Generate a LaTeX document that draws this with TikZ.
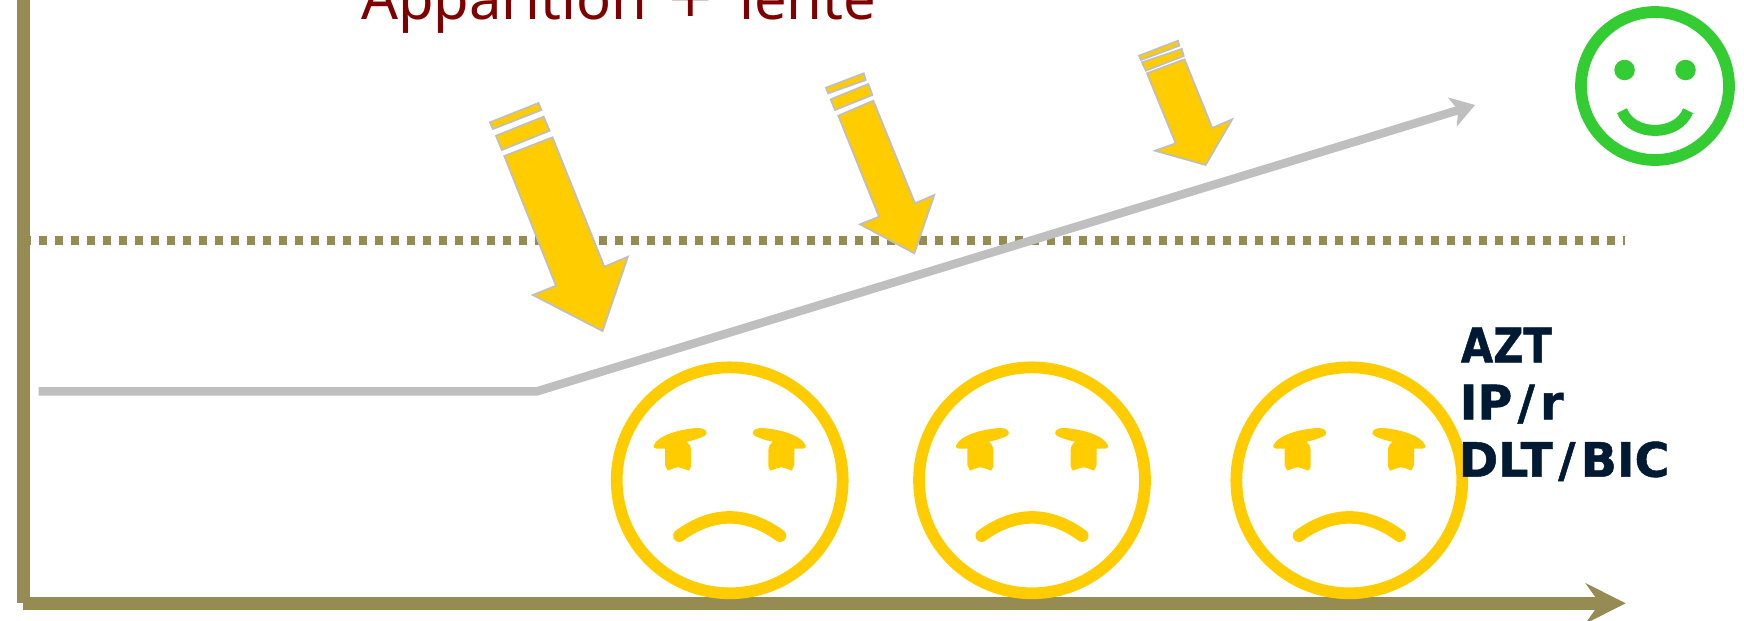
\documentclass[tikz,border=0pt]{standalone}
\usepackage{fontspec}
\newfontfamily\titlefont{Noto Sans}
\newfontfamily\drugfont[BoldFeatures={FakeBold=1}]{DejaVu Sans}
\usetikzlibrary{arrows.meta}

\definecolor{axisolive}{HTML}{968B53}
\definecolor{curvegrey}{HTML}{BFBFBF}
\definecolor{sadyellow}{HTML}{FFCC00}
\definecolor{happygreen}{HTML}{33CC33}
\definecolor{titlered}{HTML}{800000}
\definecolor{drugnavy}{HTML}{001A33}

\tikzset{
    axisline/.style={draw=axisolive, line width=0.266cm},
    limitline/.style={draw=axisolive, line width=0.17cm, dash pattern=on 0.16cm off 0.16cm},
    curveline/.style={draw=curvegrey, line width=0.17cm, line join=bevel},
    bolt/.style={fill=sadyellow, draw=curvegrey, line width=0.035cm},
    facering/.style={line width=0.235cm},
    druglabel/.style={anchor=base west, inner sep=0pt, text=drugnavy, font=\drugfont\bfseries\fontsize{27pt}{32pt}\selectfont}
}

\begin{document}
\begin{tikzpicture}[x=0.02cm, y=-0.02cm]
    \useasboundingbox (0,0) rectangle (1744,620);
    \clip (0,0) rectangle (1744,620);

    % Named points
    \coordinate (axistop) at (23.3,-10);
    \coordinate (axisorigin) at (23.3,603.3);
    \coordinate (axisend) at (1625.7,603.3);
    \coordinate (limitstart) at (23.3,240.5);
    \coordinate (limitend) at (1625,240.5);
    \coordinate (curvestart) at (38.7,391.3);
    \coordinate (curvebend) at (537,391.3);
    \coordinate (curveend) at (1475,105);

    % Threshold line
    \draw[limitline] (limitstart) -- (limitend);

    % Axes
    \draw[axisline] (axistop) -- (axisorigin);
    \draw[axisline, -{Stealth[length=0.8cm, width=0.8cm, inset=0.28cm]}] (axisorigin) -- (axisend);

    % Grey curve
    \draw[curveline, -{Stealth[length=0.47cm, width=0.6cm, inset=0.12cm]}] (curvestart) -- (curvebend) -- (curveend);

    % First arrow
    \filldraw[bolt] (490,122.3) -- (538.6,103) -- (541.4,110) -- (492.9,129) -- cycle;
    \filldraw[bolt] (496,135.7) -- (543.6,116.7) -- (549.6,130.7) -- (501.8,150) -- cycle;
    \filldraw[bolt] (504.3,156) -- (552.5,137.3) -- (604.3,266.7) -- (627.9,256.7) -- (602.5,331) -- (532.9,295) -- (556,285.7) -- cycle;

    % Second arrow
    \filldraw[bolt] (826,87.7) -- (863.7,73.3) -- (865.7,80) -- (828.3,93.3) -- cycle;
    \filldraw[bolt] (830.7,99.3) -- (868.3,84) -- (872.3,95) -- (835,110) -- cycle;
    \filldraw[bolt] (838.3,115.7) -- (873.3,100.7) -- (915,203.3) -- (934.3,195) -- (914.3,253.3) -- (860,224.3) -- (879,216.7) -- cycle;

    % Third arrow
    \filldraw[bolt] (1139,55.7) -- (1178,40.7) -- (1179.3,45.7) -- (1141,60) -- cycle;
    \filldraw[bolt] (1141.9,62.3) -- (1181.7,49) -- (1183.7,56) -- (1145.9,70.7) -- cycle;
    \filldraw[bolt] (1147,73.3) -- (1184.5,59.3) -- (1212.3,128) -- (1232.2,119.3) -- (1205.6,165) -- (1155,150.7) -- (1175.7,143.3) -- cycle;

    % Sad faces
    \foreach \facex in {729.7,1032,1349.3} {
        \begin{scope}[shift={(\facex,480.3)}]
            \draw[facering, draw=sadyellow] (0,0) circle (2.26cm);
            \draw[draw=sadyellow, line width=0.25cm, line cap=round] (-50.3,55.4) .. controls (-17,31) and (17,31) .. (50.3,55.4);
            \foreach \eyeside in {1,-1} {
                \fill[sadyellow, xscale=\eyeside] (-33,-52.3) .. controls (-49.7,-51) and (-71.3,-45.3) .. (-75.7,-35.3)
                    .. controls (-77,-32.7) and (-74.7,-31.3) .. (-70.7,-31.7) -- (-64.7,-31.7)
                    -- (-64.7,-15.3) -- (-62,-9.7) .. controls (-58,-11) and (-55,-13) .. (-52,-13)
                    .. controls (-49,-13) and (-45,-11) .. (-40.7,-9.7) -- (-38.7,-13.7) -- (-38.7,-30.3)
                    .. controls (-38.7,-34) and (-41,-37) .. (-43,-38.7) .. controls (-35,-40) and (-28,-43) .. (-25,-44.5)
                    .. controls (-21,-47) and (-23,-52.5) .. (-33,-52.3) -- cycle;
            }
        \end{scope}
    }

    % Happy face
    \draw[facering, draw=happygreen] (1655,86) circle (1.48cm);
    \fill[happygreen] (1624.6,70) circle (0.205cm);
    \fill[happygreen] (1685.5,70) circle (0.205cm);
    \draw[draw=happygreen, line width=0.22cm] (1622,110.7) .. controls (1632,137) and (1678,137) .. (1688,110.7);

    % Labels
    \node[anchor=base west, inner sep=0pt, text=titlered, font=\titlefont\fontsize{33pt}{40pt}\selectfont] (titlelabel) at (360.7,19.3) {Apparition\kern10.5pt\raisebox{1.4pt}{\drugfont +}\kern14pt lente};
    \node[druglabel] (aztlabel) at (1460.5,362.3) {\scalebox{0.88}[1]{AZT}};
    \node[druglabel] (iplabel) at (1459.5,419.3) {IP\kern3pt/\kern3pt r};
    \node[druglabel] (dltlabel) at (1458.5,476.7) {DLT\kern3pt/\kern3pt BIC};
\end{tikzpicture}
\end{document}
